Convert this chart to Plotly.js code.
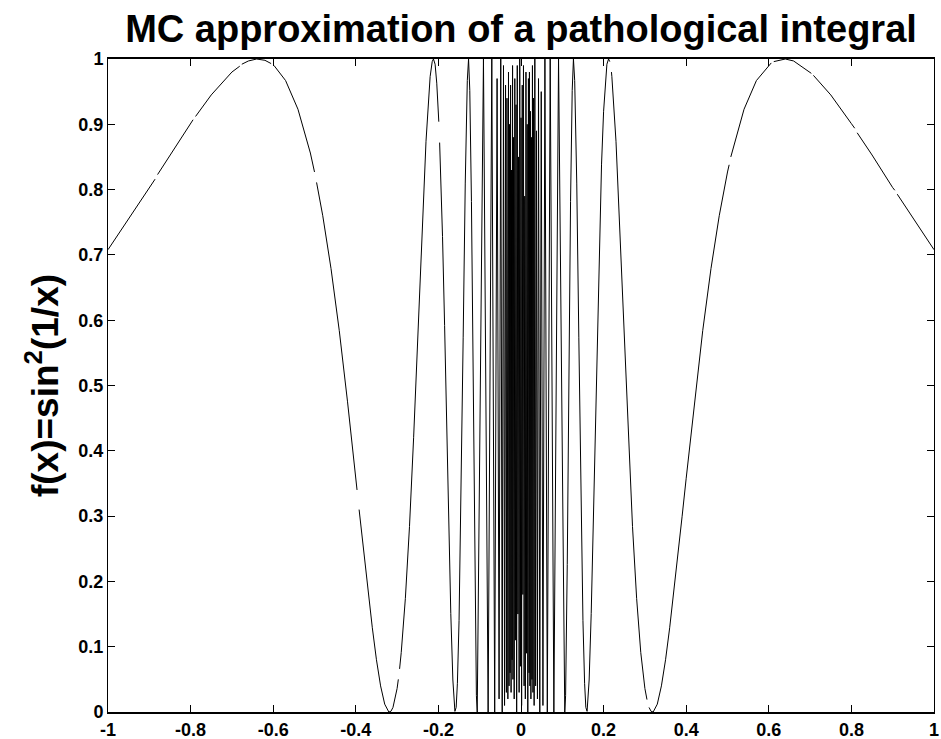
<!DOCTYPE html>
<html>
<head>
<meta charset="utf-8">
<script src="https://cdn.plot.ly/plotly-3.0.1.min.js"></script>
<style>html,body{margin:0;padding:0;background:#fff;}#chart{width:941px;height:739px;}</style>
</head>
<body>
<div id="chart"></div>
<script>
// Curve samples (x, f(x)); null = visible break in the drawn line
const curveX = [
 -1.00,-0.95,-0.90,-0.886,null,-0.880,-0.85,-0.80,-0.794,null,-0.788,-0.75,-0.70,-0.681,null,-0.676,-0.66,-0.64,-0.62,-0.605,null,-0.598,
 -0.57,-0.54,-0.51,-0.500,null,-0.495,-0.48,-0.46,-0.44,-0.42,-0.40,-0.397,null,-0.392,-0.38,-0.37,-0.36,-0.35,-0.34,-0.33,-0.32,-0.315,
 -0.31,-0.30,-0.297,null,-0.294,-0.29,-0.28,-0.27,-0.26,-0.25,-0.24,-0.23,-0.22,-0.215,-0.212,-0.208,-0.204,-0.202,-0.199,null,-0.197,
 -0.195,-0.19,-0.185,-0.18,-0.175,-0.17,-0.165,-0.16,-0.157,-0.154,-0.15,-0.145,-0.14,-0.135,-0.13,-0.127,-0.124,-0.12,-0.116,-0.112,
 -0.108,-0.106,
 -0.0909,-0.0796,-0.0707,-0.0637,-0.0579,-0.0531,-0.0490,-0.0455,-0.0424,-0.0398,-0.0374,-0.0354,-0.0340,-0.0318,-0.0303,-0.0289,
 -0.0277,-0.0265,-0.0252,-0.0240,-0.0228,-0.0216,-0.0204,-0.0195,-0.0180,-0.0165,-0.0150,-0.0135,-0.0120,-0.0105,-0.0090,-0.0075,
 -0.0060,-0.0045,-0.0030,-0.0015,0.0000,0.0015,0.0030,0.0045,0.0060,0.0075,0.0090,0.0105,0.0120,0.0135,0.0150,0.0165,0.0180,0.0195,
 0.0204,0.0216,0.0228,0.0240,0.0252,0.0265,0.0277,0.0289,0.0303,0.0318,0.0335,0.0354,0.0374,0.0398,0.0424,0.0455,0.0490,0.0531,
 0.0579,0.0637,0.0707,0.0796,0.0909,
 0.106,0.108,0.112,0.116,0.12,0.124,0.127,0.13,0.135,0.14,0.145,0.15,0.154,0.157,0.16,0.165,0.17,0.175,0.18,0.185,0.19,0.195,0.20,
 0.204,0.208,0.212,0.215,null,0.219,0.22,0.23,0.24,0.25,0.26,0.27,0.28,0.29,0.30,0.305,null,0.31,0.315,0.32,0.33,0.34,0.35,0.36,0.37,
 0.38,0.39,0.40,0.42,0.44,0.46,0.48,0.50,0.504,null,0.508,0.54,0.57,0.60,0.606,null,0.612,0.64,0.66,0.70,0.703,null,0.708,0.75,0.80,
 0.808,null,0.814,0.85,0.90,0.905,null,0.911,0.95,1.00
];
const curveY = [
 0.708,0.755,0.803,0.816,null,0.823,0.853,0.901,0.907,null,0.912,0.945,0.980,0.989,null,0.992,0.997,1.000,0.998,0.993,null,0.990,
 0.967,0.923,0.856,0.827,null,0.811,0.760,0.679,0.584,0.475,0.358,0.340,null,0.310,0.239,0.183,0.129,0.080,0.040,0.012,0.000,0.001,
 0.007,0.036,0.050,null,0.066,0.091,0.174,0.284,0.420,0.573,0.731,0.874,0.973,0.996,1.000,0.992,0.963,0.944,0.904,null,0.872,
 0.839,0.728,0.592,0.443,0.291,0.151,0.049,0.001,0.007,0.044,0.140,0.334,0.574,0.810,0.967,1.000,0.952,0.782,0.522,0.226,
 0.025,0.000,
 1.00,0.00,1.00,0.00,0.97,0.02,1.00,0.00,0.99,0.01,0.96,0.03,0.94,0.02,0.98,0.04,
 0.90,0.06,0.96,0.03,0.83,0.08,0.99,0.05,0.88,0.02,0.97,0.11,0.93,0.00,0.99,0.15,
 0.85,0.03,1.00,0.07,0.91,0.01,0.96,0.18,0.99,0.04,0.79,0.02,0.98,0.09,0.90,0.00,0.97,0.06,
 0.98,0.04,0.92,0.02,0.88,0.05,0.99,0.03,0.94,0.01,1.00,0.04,0.89,0.02,0.97,0.00,0.95,0.01,
 1.00,0.00,1.00,0.00,1.00,
 0.000,0.025,0.226,0.522,0.782,0.952,1.000,0.967,0.810,0.574,0.334,0.140,0.044,0.007,0.001,0.049,0.151,0.291,0.443,0.592,0.728,0.839,0.920,
 0.963,0.992,1.000,0.996,null,0.980,0.973,0.874,0.731,0.573,0.420,0.284,0.174,0.091,0.036,0.019,null,0.007,0.001,0.000,0.012,0.040,0.080,0.129,0.183,
 0.239,0.299,0.358,0.475,0.584,0.679,0.760,0.827,0.838,null,0.850,0.923,0.967,0.991,0.994,null,0.996,1.000,0.997,0.980,0.978,null,0.975,0.945,0.901,
 0.894,null,0.887,0.853,0.803,0.799,null,0.793,0.755,0.708
];
const xTickVals = [-1,-0.8,-0.6,-0.4,-0.2,0,0.2,0.4,0.6,0.8,1];
const xTickText = ['-1','-0.8','-0.6','-0.4','-0.2','0','0.2','0.4','0.6','0.8','1'];
const yTickVals = [0,0.1,0.2,0.3,0.4,0.5,0.6,0.7,0.8,0.9,1];
const yTickText = ['0','0.1','0.2','0.3','0.4','0.5','0.6','0.7','0.8','0.9','1'];

const fam = '"Liberation Sans", Arial, Helvetica, sans-serif';
const famNarrow = '"Liberation Sans Narrow", "Liberation Sans", Arial, sans-serif';
const trace = {
  x: curveX, y: curveY, type: 'scatter', mode: 'lines',
  line: {color: '#000', width: 1}, connectgaps: false, hoverinfo: 'skip', showlegend: false
};
const axisCommon = {
  showgrid: false, zeroline: false, showline: true, linecolor: '#000', linewidth: 1,
  mirror: 'ticks', ticks: 'inside', ticklen: 7, tickwidth: 1, tickcolor: '#000',
  tickfont: {family: famNarrow, size: 18, color: '#000', weight: 'bold'}, tickmode: 'array'
};
const layout = {
  width: 941, height: 739,
  margin: {l: 108, r: 7, t: 59, b: 27},
  paper_bgcolor: '#fff', plot_bgcolor: '#fff',
  title: {text: 'MC approximation of a pathological integral', x: 0.5, xref: 'paper', xanchor: 'center',
          y: 0.961, yref: 'container', yanchor: 'middle',
          font: {family: fam, size: 38, color: '#000', weight: 'bold'}},
  xaxis: Object.assign({}, axisCommon, {range: [-1, 1], tickvals: xTickVals, ticktext: xTickText, linewidth: 2}),
  yaxis: Object.assign({}, axisCommon, {range: [0, 1], tickvals: yTickVals, ticktext: yTickText,
          title: {text: 'f(x)=sin<sup>2</sup>(1/x)', standoff: 8, font: {family: fam, size: 37, color: '#000', weight: 'bold'}}})
};
Plotly.newPlot('chart', [trace], layout, {displayModeBar: false, staticPlot: true});
</script>
</body>
</html>
